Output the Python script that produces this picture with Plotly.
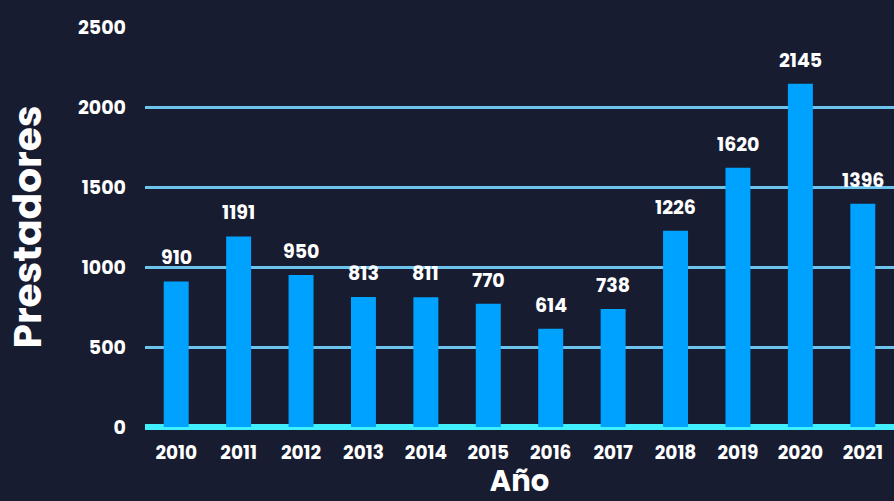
import plotly.graph_objects as go

years = ["2010", "2011", "2012", "2013", "2014", "2015", "2016", "2017", "2018", "2019", "2020", "2021"]
prestadores = [910, 1191, 950, 813, 811, 770, 614, 738, 1226, 1620, 2145, 1396]
y_ticks = [0, 500, 1000, 1500, 2000, 2500]

BG = "#181c31"
BAR = "#00a2ff"
GRID = "#6cc4ec"
ZERO = "#40f0ff"
FONT = "Poppins, Inter, Roboto, sans-serif"

fig = go.Figure()
fig.add_trace(go.Bar(
    x=years, y=prestadores,
    marker=dict(color=BAR, line=dict(width=0)),
    width=0.4,
    hoverinfo="x+y",
))

for i, v in enumerate(prestadores):
    fig.add_annotation(x=i, y=v, xref="x", yref="y", text=f"<b>{v}</b>", showarrow=False,
                       yanchor="bottom", yshift=8,
                       font=dict(family=FONT, size=19, color="white"))

fig.update_layout(
    width=894, height=501,
    paper_bgcolor=BG, plot_bgcolor=BG,
    margin=dict(l=145, r=0, t=27, b=74),
    showlegend=False,
    font=dict(family=FONT, color="white"),
    xaxis=dict(
        type="category",
        categoryorder="array", categoryarray=years,
        range=[-0.5, 11.5],
        showgrid=False, showline=False, zeroline=False,
        tickfont=dict(family=FONT, size=18.5, color="white", weight="bold"),
        ticklabelstandoff=12,
        title=dict(text="<b>Año</b>", font=dict(family=FONT, size=29, color="white"), standoff=10),
    ),
    yaxis=dict(
        range=[0, 2500],
        tickvals=y_ticks,
        showgrid=True, gridcolor=GRID, gridwidth=2.5,
        zeroline=True, zerolinecolor=ZERO, zerolinewidth=6,
        showline=False,
        tickfont=dict(family=FONT, size=19, color="white", weight="bold"),
        ticklabelstandoff=18,
        title=dict(text="<b>Prestadores</b>", font=dict(family=FONT, size=39, color="white"), standoff=32),
    ),
)

fig.write_html("out.html", config={"displayModeBar": False},
               post_script="document.body.style.margin='0';document.body.style.background='" + BG + "';")
